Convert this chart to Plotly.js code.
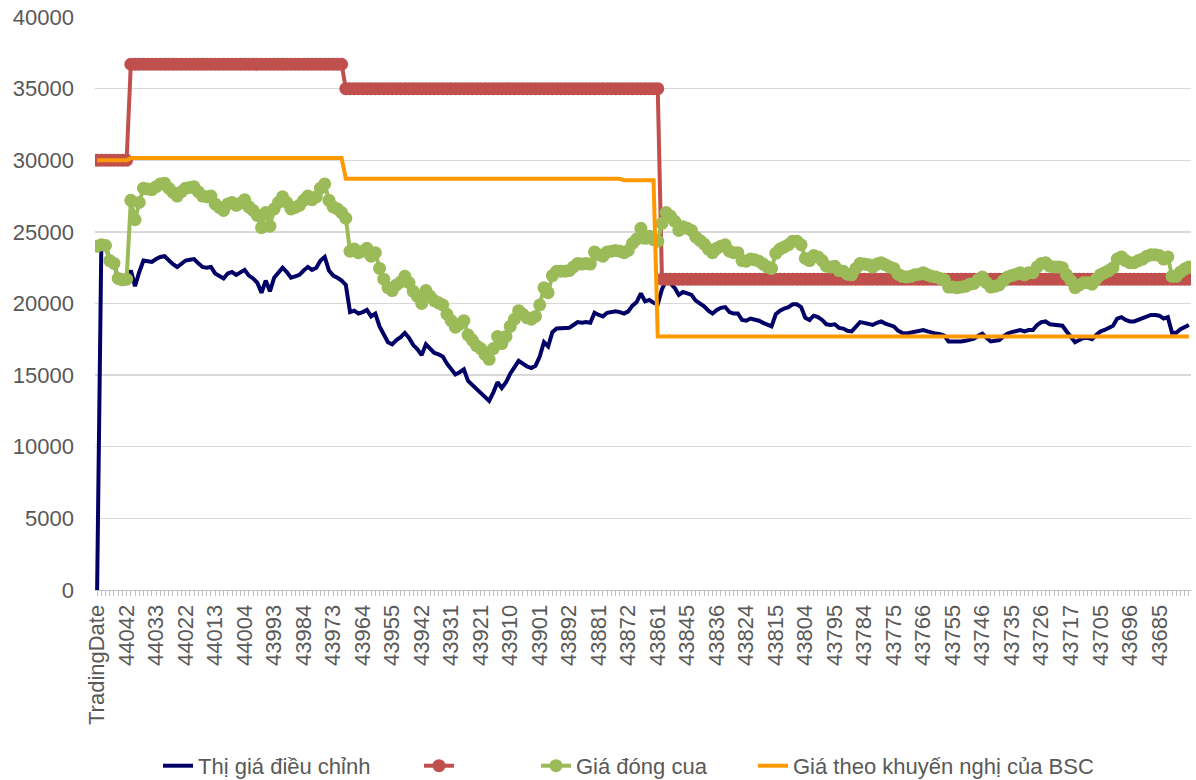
<!DOCTYPE html>
<html>
<head>
<meta charset="utf-8">
<script src="https://cdn.plot.ly/plotly-3.0.1.min.js"></script>
<style>html,body{margin:0;padding:0;background:#fff;}#chart{width:1196px;height:780px;}</style>
</head>
<body>
<div id="chart"></div>
<script>
// Category axis: header row + Excel date serials (descending)
const categories = ['TradingDate',
44050,44049,44048,44047,44046,44043,44042,44041,44040,44039,
44036,44035,44034,44033,44032,44029,44028,44027,44026,44025,
44022,44021,44020,44019,44018,44015,44014,44013,44012,44011,
44008,44007,44006,44005,44004,44001,44000,43999,43998,43997,
43994,43993,43992,43991,43990,43987,43986,43985,43984,43983,
43980,43979,43978,43977,43976,43973,43972,43971,43970,43969,
43966,43965,43964,43963,43962,43959,43958,43957,43956,43955,
43950,43949,43948,43945,43944,43943,43942,43941,43938,43937,
43936,43935,43934,43931,43930,43929,43928,43927,43924,43922,
43921,43920,43917,43916,43915,43914,43913,43910,43909,43908,
43907,43906,43903,43902,43901,43900,43899,43896,43895,43894,
43893,43892,43889,43888,43887,43886,43885,43882,43881,43880,
43879,43878,43875,43874,43873,43872,43871,43868,43867,43866,
43865,43864,43861,43860,43852,43851,43850,43847,43846,43845,
43844,43843,43840,43839,43838,43837,43836,43833,43832,43830,
43829,43826,43825,43824,43823,43822,43819,43818,43817,43816,
43815,43812,43811,43810,43809,43808,43805,43804,43803,43802,
43801,43798,43797,43796,43795,43794,43791,43790,43789,43788,
43787,43784,43783,43782,43781,43780,43777,43776,43775,43774,
43773,43770,43769,43768,43767,43766,43763,43762,43761,43760,
43759,43756,43755,43754,43753,43752,43749,43748,43747,43746,
43745,43742,43741,43740,43739,43738,43735,43734,43733,43732,
43731,43728,43727,43726,43725,43724,43721,43720,43719,43718,
43717,43714,43713,43712,43711,43707,43706,43705,43704,43703,
43700,43699,43698,43697,43696,43693,43692,43691,43690,43689,
43686,43685,43684,43683,43682,43679,43678,43677,43676];

const tickLabels = ['TradingDate','44042','44033','44022','44013','44004','43993','43984','43973','43964','43955','43942','43931','43921','43910','43901','43892','43881','43872','43861','43845','43836','43824','43815','43804','43795','43784','43775','43766','43755','43746','43735','43726','43717','43705','43696','43685'];

const seriesNames = ['Thị giá điều chỉnh', '', 'Giá đóng cua', 'Giá theo khuyến nghị của BSC'];

const adjustedPrice = [
0,24100,24050,23000,22800,21750,21650,21700,22300,21200,
22200,23000,22950,22900,23100,23250,23300,23000,22750,22550,
22800,23000,23050,23100,22800,22550,22500,22550,22100,21900,
21750,22100,22200,22000,22150,22350,21950,21750,21450,20750,
21600,20850,21800,22200,22500,22200,21800,21900,22000,22300,
22550,22350,22500,23000,23250,22300,21950,21800,21600,21300,
19400,19500,19300,19400,19550,19100,19300,18400,17800,17300,
17150,17450,17650,17950,17600,17100,16800,16400,17150,16800,
16550,16450,16300,15800,15400,15050,15200,15400,14600,14300,
14000,13800,13500,13200,13800,14500,14100,14500,15100,15500,
16000,15800,15600,15500,15650,16300,17300,17000,18000,18250,
18250,18250,18300,18500,18700,18650,18700,18650,19350,19200,
19100,19350,19400,19450,19400,19300,19450,19850,20100,20700,
20150,20250,20050,19950,21000,21600,21400,21100,20600,20800,
20700,20600,20200,20000,19800,19500,19300,19550,19700,19750,
19400,19300,19300,18850,18800,18950,18900,18800,18650,18500,
18400,19250,19500,19650,19750,19950,19950,19750,19000,18850,
19150,19050,18850,18550,18500,18550,18300,18250,18100,18050,
18400,18700,18650,18600,18500,18650,18750,18600,18500,18400,
18100,17950,17900,17950,18050,18100,18150,18050,17950,17900,
17850,17750,17350,17350,17300,17350,17400,17500,17550,17750,
17900,17600,17350,17400,17450,17700,17900,18000,18100,18150,
18050,18150,18150,18500,18700,18750,18550,18500,18500,18450,
18050,17700,17300,17450,17600,17600,17500,17800,18050,18150,
18300,18450,18950,19050,18850,18750,18750,18850,18950,19100,
19200,19200,19150,18950,19050,17950,17950,18200,18350,18500];

const redSeries = [
30000,30000,30000,30000,30000,30000,30000,30000,36700,36700,
36700,36700,36700,36700,36700,36700,36700,36700,36700,36700,
36700,36700,36700,36700,36700,36700,36700,36700,36700,36700,
36700,36700,36700,36700,36700,36700,36700,36700,36700,36700,
36700,36700,36700,36700,36700,36700,36700,36700,36700,36700,
36700,36700,36700,36700,36700,36700,36700,36700,36700,35000,
35000,35000,35000,35000,35000,35000,35000,35000,35000,35000,
35000,35000,35000,35000,35000,35000,35000,35000,35000,35000,
35000,35000,35000,35000,35000,35000,35000,35000,35000,35000,
35000,35000,35000,35000,35000,35000,35000,35000,35000,35000,
35000,35000,35000,35000,35000,35000,35000,35000,35000,35000,
35000,35000,35000,35000,35000,35000,35000,35000,35000,35000,
35000,35000,35000,35000,35000,35000,35000,35000,35000,35000,
35000,35000,35000,35000,21700,21700,21700,21700,21700,21700,
21700,21700,21700,21700,21700,21700,21700,21700,21700,21700,
21700,21700,21700,21700,21700,21700,21700,21700,21700,21700,
21700,21700,21700,21700,21700,21700,21700,21700,21700,21700,
21700,21700,21700,21700,21700,21700,21700,21700,21700,21700,
21700,21700,21700,21700,21700,21700,21700,21700,21700,21700,
21700,21700,21700,21700,21700,21700,21700,21700,21700,21700,
21700,21700,21700,21700,21700,21700,21700,21700,21700,21700,
21700,21700,21700,21700,21700,21700,21700,21700,21700,21700,
21700,21700,21700,21700,21700,21700,21700,21700,21700,21700,
21700,21700,21700,21700,21700,21700,21700,21700,21700,21700,
21700,21700,21700,21700,21700,21700,21700,21700,21700,21700,
21700,21700,21700,21700,21700,21700,21700,21700,21700,21700];

const closePrice = [
24000,24100,24050,23000,22800,21750,21650,21700,27200,25850,
27050,28050,28000,27950,28150,28350,28400,28050,27750,27500,
27800,28050,28100,28150,27800,27500,27450,27500,26950,26700,
26500,26950,27050,26850,27000,27250,26750,26500,26150,25300,
26350,25400,26600,27050,27450,27050,26600,26700,26850,27200,
27500,27250,27450,28050,28350,27200,26750,26600,26350,25950,
23650,23800,23550,23650,23850,23300,23550,22450,21700,21100,
20900,21300,21500,21900,21450,20850,20500,20000,20900,20500,
20200,20050,19900,19250,18800,18350,18550,18800,17800,17450,
17050,16850,16450,16100,16850,17700,17200,17700,18400,18900,
19500,19250,19000,18900,19100,19900,21100,20750,21950,22250,
22250,22250,22300,22550,22800,22750,22800,22750,23600,23400,
23300,23600,23650,23700,23650,23550,23700,24200,24500,25250,
24550,24700,24450,24350,25600,26350,26100,25750,25100,25350,
25250,25100,24650,24400,24150,23800,23550,23850,24000,24100,
23650,23550,23550,23000,22950,23100,23050,22950,22750,22550,
22450,23500,23800,23950,24100,24350,24350,24100,23150,23000,
23350,23250,23000,22600,22550,22600,22300,22250,22050,22000,
22450,22800,22750,22700,22550,22750,22850,22700,22550,22450,
22050,21900,21850,21900,22000,22050,22150,22000,21900,21850,
21750,21650,21150,21150,21100,21150,21200,21350,21400,21650,
21850,21450,21150,21200,21300,21600,21850,21950,22050,22150,
22000,22150,22150,22550,22800,22850,22600,22550,22550,22500,
22000,21600,21100,21300,21450,21450,21350,21700,22000,22150,
22300,22500,23100,23250,23000,22850,22850,23000,23100,23300,
23400,23400,23350,23100,23250,21900,21900,22200,22400,22550];

const bscTarget = [
30000,30000,30000,30000,30000,30000,30000,30000,30150,30150,
30150,30150,30150,30150,30150,30150,30150,30150,30150,30150,
30150,30150,30150,30150,30150,30150,30150,30150,30150,30150,
30150,30150,30150,30150,30150,30150,30150,30150,30150,30150,
30150,30150,30150,30150,30150,30150,30150,30150,30150,30150,
30150,30150,30150,30150,30150,30150,30150,30150,30150,28700,
28700,28700,28700,28700,28700,28700,28700,28700,28700,28700,
28700,28700,28700,28700,28700,28700,28700,28700,28700,28700,
28700,28700,28700,28700,28700,28700,28700,28700,28700,28700,
28700,28700,28700,28700,28700,28700,28700,28700,28700,28700,
28700,28700,28700,28700,28700,28700,28700,28700,28700,28700,
28700,28700,28700,28700,28700,28700,28700,28700,28700,28700,
28700,28700,28700,28700,28700,28600,28600,28600,28600,28600,
28600,28600,28600,17700,17700,17700,17700,17700,17700,17700,
17700,17700,17700,17700,17700,17700,17700,17700,17700,17700,
17700,17700,17700,17700,17700,17700,17700,17700,17700,17700,
17700,17700,17700,17700,17700,17700,17700,17700,17700,17700,
17700,17700,17700,17700,17700,17700,17700,17700,17700,17700,
17700,17700,17700,17700,17700,17700,17700,17700,17700,17700,
17700,17700,17700,17700,17700,17700,17700,17700,17700,17700,
17700,17700,17700,17700,17700,17700,17700,17700,17700,17700,
17700,17700,17700,17700,17700,17700,17700,17700,17700,17700,
17700,17700,17700,17700,17700,17700,17700,17700,17700,17700,
17700,17700,17700,17700,17700,17700,17700,17700,17700,17700,
17700,17700,17700,17700,17700,17700,17700,17700,17700,17700,
17700,17700,17700,17700,17700,17700,17700,17700,17700,17700];

const x = categories.map(String);
const tickText = x.map(c => tickLabels.indexOf(c) >= 0 ? c : '');

const FONT = 'Liberation Sans, Arial, sans-serif';
const GREY = '#595959';
const FS = 22;

const traces = [
  {x: x, y: adjustedPrice, type: 'scatter', mode: 'lines', name: seriesNames[0], legend: 'legend',
   line: {color: '#000066', width: 4}},
  {x: x, y: redSeries, type: 'scatter', mode: 'lines+markers', name: seriesNames[1], legend: 'legend2',
   line: {color: '#C0504D', width: 4}, marker: {color: '#C0504D', size: 13, line: {width: 0}}},
  {x: x, y: closePrice, type: 'scatter', mode: 'lines+markers', name: seriesNames[2], legend: 'legend3',
   line: {color: '#9BBB59', width: 4}, marker: {color: '#9BBB59', size: 13, line: {width: 0}}},
  {x: x, y: bscTarget, type: 'scatter', mode: 'lines', name: seriesNames[3], legend: 'legend4',
   line: {color: '#FF9900', width: 4}}
];

function leg(px) {
  return {orientation: 'h', x: (px - 95) / 1096, xanchor: 'left', y: -0.307, yanchor: 'middle',
          font: {family: FONT, size: FS, color: GREY}, bgcolor: 'rgba(0,0,0,0)'};
}

const layout = {
  width: 1196, height: 780,
  margin: {l: 95, r: 5, t: 17, b: 190, autoexpand: false},
  paper_bgcolor: '#ffffff', plot_bgcolor: '#ffffff',
  font: {family: FONT, size: FS, color: GREY},
  showlegend: true,
  legend: leg(158),
  legend2: leg(419),
  legend3: leg(536),
  legend4: leg(753),
  xaxis: {
    type: 'category', range: [-0.5, categories.length - 0.5],
    tickmode: 'array', tickvals: x, ticktext: tickText,
    tickangle: -90, ticks: 'outside', ticklen: 5, tickcolor: '#bfbfbf', tickwidth: 1,
    showline: true, linecolor: '#bfbfbf', linewidth: 1,
    showgrid: false, zeroline: false, automargin: false,
    tickfont: {family: FONT, size: FS, color: GREY}
  },
  yaxis: {
    range: [0, 40000], tick0: 0, dtick: 5000, tickformat: 'd',
    showgrid: true, gridcolor: '#d9d9d9', gridwidth: 1.3,
    zeroline: false, showline: false, ticks: '', automargin: false,
    ticklabelstandoff: 20,
    tickfont: {family: FONT, size: FS, color: GREY}
  }
};

Plotly.newPlot('chart', traces, layout, {displayModeBar: false, staticPlot: true});
</script>
</body>
</html>
